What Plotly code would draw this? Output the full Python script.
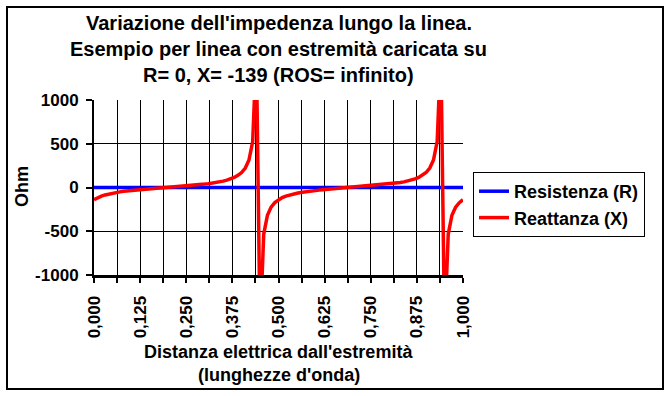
import plotly.graph_objects as go

# ---------------- data ----------------
distanza = [
    0.00, 0.01, 0.02, 0.03, 0.04, 0.05, 0.06, 0.07, 0.08, 0.09,
    0.10, 0.11, 0.12, 0.13, 0.14, 0.15, 0.16, 0.17, 0.18, 0.19,
    0.20, 0.21, 0.22, 0.23, 0.24, 0.25, 0.26, 0.27, 0.28, 0.29,
    0.30, 0.31, 0.32, 0.33, 0.34, 0.35, 0.36, 0.37, 0.38, 0.39,
    0.40, 0.41, 0.42, 0.43, 0.44, 0.45, 0.46, 0.47, 0.48, 0.49,
    0.50, 0.51, 0.52, 0.53, 0.54, 0.55, 0.56, 0.57, 0.58, 0.59,
    0.60, 0.61, 0.62, 0.63, 0.64, 0.65, 0.66, 0.67, 0.68, 0.69,
    0.70, 0.71, 0.72, 0.73, 0.74, 0.75, 0.76, 0.77, 0.78, 0.79,
    0.80, 0.81, 0.82, 0.83, 0.84, 0.85, 0.86, 0.87, 0.88, 0.89,
    0.90, 0.91, 0.92, 0.93, 0.94, 0.95, 0.96, 0.97, 0.98, 0.99,
    1.00,
]

resistenza = [
    0, 0, 0, 0, 0, 0, 0, 0, 0, 0,
    0, 0, 0, 0, 0, 0, 0, 0, 0, 0,
    0, 0, 0, 0, 0, 0, 0, 0, 0, 0,
    0, 0, 0, 0, 0, 0, 0, 0, 0, 0,
    0, 0, 0, 0, 0, 0, 0, 0, 0, 0,
    0, 0, 0, 0, 0, 0, 0, 0, 0, 0,
    0, 0, 0, 0, 0, 0, 0, 0, 0, 0,
    0, 0, 0, 0, 0, 0, 0, 0, 0, 0,
    0, 0, 0, 0, 0, 0, 0, 0, 0, 0,
    0, 0, 0, 0, 0, 0, 0, 0, 0, 0,
    0,
]

reattanza = [
    -139, -116, -98, -85, -74, -65, -57, -50, -44, -39,
    -34, -30, -26, -22, -18, -15, -11, -8, -5, -2,
    2, 5, 8, 11, 15, 18, 22, 25, 30, 34,
    39, 44, 50, 57, 64, 73, 84, 98, 115, 139,
    171, 223, 314, 525, 1562, -1623, -532, -317, -224, -173,
    -139, -116, -98, -85, -74, -65, -57, -50, -44, -39,
    -34, -30, -26, -22, -18, -15, -11, -8, -5, -2,
    2, 5, 8, 11, 15, 18, 22, 25, 30, 34,
    39, 44, 50, 57, 64, 73, 84, 98, 115, 139,
    171, 223, 314, 525, 1562, -1623, -532, -317, -224, -173,
    -139,
]

x_tick_vals = [0.0, 0.0625, 0.125, 0.1875, 0.25, 0.3125, 0.375, 0.4375, 0.5,
               0.5625, 0.625, 0.6875, 0.75, 0.8125, 0.875, 0.9375, 1.0]
x_tick_text = ["0,000", "", "0,125", "", "0,250", "", "0,375", "", "0,500",
               "", "0,625", "", "0,750", "", "0,875", "", "1,000"]
y_tick_vals = [-1000, -500, 0, 500, 1000]
y_tick_text = ["-1000", "-500", "0", "500", "1000"]

titolo = [
    "Variazione dell'impedenza lungo la linea.",
    "Esempio per linea con estremità caricata su",
    "R= 0, X= -139 (ROS= infinito)",
]
titolo_x = ["Distanza elettrica dall'estremità", "(lunghezze d'onda)"]
titolo_y = "Ohm"
nomi_serie = ["Resistenza (R)", "Reattanza (X)"]

# ---------------- figure ----------------
FONT = "Liberation Sans, Arial, sans-serif"
W, H = 671, 396
L, R, T, B = 94, 208, 100, 121
PW, PH = W - L - R, H - T - B


def px_x(p):
    return (p - L) / PW


def px_y(p):
    return (H - B - p) / PH


fig = go.Figure()
fig.add_trace(go.Scatter(x=distanza, y=resistenza, mode="lines", name=nomi_serie[0],
                         line=dict(color="#0000FF", width=3.5)))
fig.add_trace(go.Scatter(x=distanza, y=reattanza, mode="lines", name=nomi_serie[1],
                         line=dict(color="#FF0000", width=3.5)))

fig.update_layout(
    width=W, height=H,
    margin=dict(l=L, r=R, t=T, b=B, autoexpand=False),
    paper_bgcolor="white", plot_bgcolor="white",
    font=dict(family=FONT, color="black", size=17, weight="bold"),
    showlegend=True,
    legend=dict(
        x=px_x(473), y=px_y(172), xanchor="left", yanchor="top",
        bordercolor="black", borderwidth=1, bgcolor="white",
        font=dict(family=FONT, size=18, color="black", weight="bold"),
        traceorder="normal",
    ),
    xaxis=dict(
        range=[0, 1], tickmode="array", tickvals=x_tick_vals, ticktext=x_tick_text,
        tickangle=-90, ticks="outside", ticklen=5, tickwidth=2, tickcolor="black",
        showgrid=True, gridcolor="black", gridwidth=1,
        showline=True, linecolor="black", linewidth=3, zeroline=False,
        tickfont=dict(family=FONT, size=17, color="black", weight="bold"),
        ticklabelstandoff=6, fixedrange=True,
    ),
    yaxis=dict(
        range=[-1000, 1000], tickmode="array", tickvals=y_tick_vals, ticktext=y_tick_text,
        ticks="outside", ticklen=6, tickwidth=2, tickcolor="black",
        showgrid=True, gridcolor="black", gridwidth=1,
        showline=True, linecolor="black", linewidth=2, zeroline=False,
        tickfont=dict(family=FONT, size=17, color="black", weight="bold"),
        ticklabelstandoff=4, fixedrange=True,
    ),
)

# outer chart border
fig.add_shape(type="rect", xref="paper", yref="paper",
              x0=px_x(7), x1=px_x(663), y0=px_y(389), y1=px_y(7),
              line=dict(color="black", width=2), fillcolor="rgba(0,0,0,0)", layer="above")

# title lines
for testo, yc in zip(titolo, [23, 49, 75]):
    fig.add_annotation(text=testo, xref="paper", yref="paper", x=0.5, y=px_y(yc),
                       xanchor="center", yanchor="middle", showarrow=False,
                       font=dict(family=FONT, size=20, color="black", weight="bold"))

# x axis title lines
for testo, yc in zip(titolo_x, [352, 375]):
    fig.add_annotation(text=testo, xref="paper", yref="paper", x=0.5, y=px_y(yc),
                       xanchor="center", yanchor="middle", showarrow=False,
                       font=dict(family=FONT, size=18, color="black", weight="bold"))

# y axis title
fig.add_annotation(text=titolo_y, xref="paper", yref="paper", x=px_x(22), y=px_y(187),
                   xanchor="center", yanchor="middle", showarrow=False, textangle=-90,
                   font=dict(family=FONT, size=18, color="black", weight="bold"))

fig.write_html(
    "out.html",
    config={"displayModeBar": False},
    post_script="document.body.style.margin='0';document.body.style.overflow='hidden';",
)
